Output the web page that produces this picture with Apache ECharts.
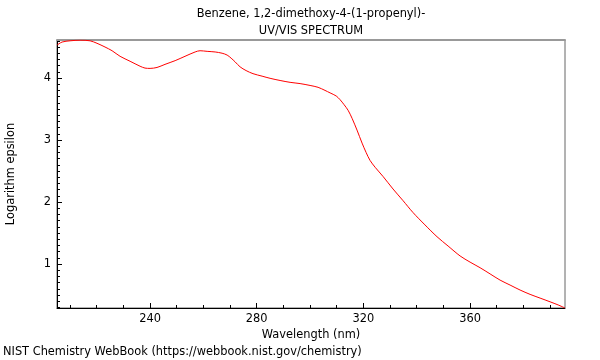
<!DOCTYPE html>
<html>
<head>
<meta charset="utf-8">
<script src="https://cdn.jsdelivr.net/npm/echarts@6/dist/echarts.min.js"></script>
<style>html,body{margin:0;padding:0;background:#fff}#c{width:600px;height:360px}</style>
</head>
<body>
<div id="c"></div>
<script>
const titleLines = ['Benzene, 1,2-dimethoxy-4-(1-propenyl)-', 'UV/VIS SPECTRUM'];
const xName = 'Wavelength (nm)';
const yName = 'Logarithm epsilon';
const footer = 'NIST Chemistry WebBook (https://webbook.nist.gov/chemistry)';
const xMajorTicks = [240, 280, 320, 360];
const xMinorTicks = [210, 220, 230, 250, 260, 270, 290, 300, 310, 330, 340, 350, 370, 380, 390];
const yMajorTicks = [1, 2, 3, 4];
const yMinorTicks = [0.3,0.4,0.5,0.6,0.7,0.8,0.9,1.1,1.2,1.3,1.4,1.5,1.6,1.7,1.8,1.9,2.1,2.2,2.3,2.4,2.5,2.6,2.7,2.8,2.9,3.1,3.2,3.3,3.4,3.5,3.6,3.7,3.8,3.9,4.1,4.2,4.3,4.4,4.5,4.6];
const wavelengths = [205.1,207,210,213.75,217.5,220.1,223.1,225.75,228.75,232.5,236.25,238.1,240,242.6,245.6,249.4,253.1,256.9,258.75,261.4,264.4,267,268.9,270.4,271.9,273.75,276,278.6,282,285,288.75,292.5,296.25,300,303,305.6,307.5,309.8,311.25,312.75,314.25,315.75,317.6,319.5,321,322.5,324.4,327.4,331.1,334.9,338.6,343.1,347.6,351.75,356.25,360,363.75,367.5,371.25,375,378.75,382.5,386.25,390,393,395.6];
const logEpsilon = [4.53,4.58,4.60,4.61,4.60,4.56,4.50,4.44,4.35,4.27,4.19,4.16,4.155,4.17,4.22,4.28,4.35,4.42,4.44,4.43,4.42,4.40,4.37,4.32,4.26,4.18,4.12,4.07,4.03,3.995,3.96,3.93,3.91,3.88,3.85,3.80,3.76,3.71,3.65,3.57,3.48,3.35,3.16,2.95,2.80,2.67,2.56,2.41,2.21,2.02,1.83,1.63,1.44,1.29,1.13,1.03,0.94,0.84,0.74,0.66,0.58,0.51,0.45,0.39,0.34,0.29];

const X_MIN = 205.1, X_MAX = 395.6, Y_MIN = 0.29, Y_MAX = 4.613;
const FONT = 'DejaVu Sans';
const FS = 11.4;
const gridRect = {left: 57, right: 35, top: 40, bottom: 52, outerBoundsMode: 'none', containLabel: false};

const chart = echarts.init(document.getElementById('c'), null, {renderer: 'canvas'});
chart.setOption({
  animation: false,
  backgroundColor: '#fff',
  title: {
    text: titleLines.join('\n'),
    left: 311, top: 6, padding: 0, textAlign: 'center',
    textStyle: {fontFamily: FONT, fontSize: FS, fontWeight: 'normal', color: '#000', lineHeight: 17}
  },
  graphic: [{
    type: 'text', left: 3, top: 347,
    style: {text: footer, fontFamily: FONT, fontSize: FS, fill: '#000'}
  }],
  grid: [
    Object.assign({show: true, borderColor: '#666', borderWidth: 1, backgroundColor: 'transparent'}, gridRect),
    Object.assign({show: false}, gridRect)
  ],
  xAxis: [
    {gridIndex: 0, type: 'value', min: X_MIN, max: X_MAX, position: 'bottom',
     name: xName, nameLocation: 'middle', nameGap: 17,
     nameTextStyle: {fontFamily: FONT, fontSize: FS, color: '#000'},
     axisLine: {show: true, lineStyle: {color: '#000', width: 1}},
     axisTick: {show: true, inside: true, length: 5, customValues: xMajorTicks, lineStyle: {color: '#000'}},
     axisLabel: {show: true, customValues: xMajorTicks, fontFamily: FONT, fontSize: FS, color: '#000', margin: 6},
     splitLine: {show: false}},
    {gridIndex: 0, type: 'value', min: X_MIN, max: X_MAX, position: 'top',
     axisLine: {show: true, lineStyle: {color: '#999', width: 2}},
     axisTick: {show: false}, axisLabel: {show: false}, splitLine: {show: false}},
    {gridIndex: 1, type: 'value', min: X_MIN, max: X_MAX, position: 'bottom',
     axisLine: {show: false},
     axisTick: {show: true, inside: true, length: 3, customValues: xMinorTicks, lineStyle: {color: '#000'}},
     axisLabel: {show: false}, splitLine: {show: false}}
  ],
  yAxis: [
    {gridIndex: 0, type: 'value', min: Y_MIN, max: Y_MAX, position: 'left',
     name: yName, nameLocation: 'middle', nameGap: 40,
     nameTextStyle: {fontFamily: FONT, fontSize: FS, color: '#000'},
     axisLine: {show: true, lineStyle: {color: '#000', width: 1}},
     axisTick: {show: true, inside: true, length: 5, customValues: yMajorTicks, lineStyle: {color: '#000'}},
     axisLabel: {show: true, customValues: yMajorTicks, fontFamily: FONT, fontSize: FS, color: '#000', margin: 6},
     splitLine: {show: false}},
    {gridIndex: 1, type: 'value', min: Y_MIN, max: Y_MAX, position: 'left',
     axisLine: {show: false},
     axisTick: {show: true, inside: true, length: 3, customValues: yMinorTicks, lineStyle: {color: '#000'}},
     axisLabel: {show: false}, splitLine: {show: false}}
  ],
  series: [{
    type: 'line', xAxisIndex: 0, yAxisIndex: 0,
    data: wavelengths.map((w, i) => [w, logEpsilon[i]]),
    showSymbol: false, smooth: 0.3, clip: true,
    lineStyle: {color: '#ff0000', width: 1}
  }]
});
</script>
</body>
</html>
